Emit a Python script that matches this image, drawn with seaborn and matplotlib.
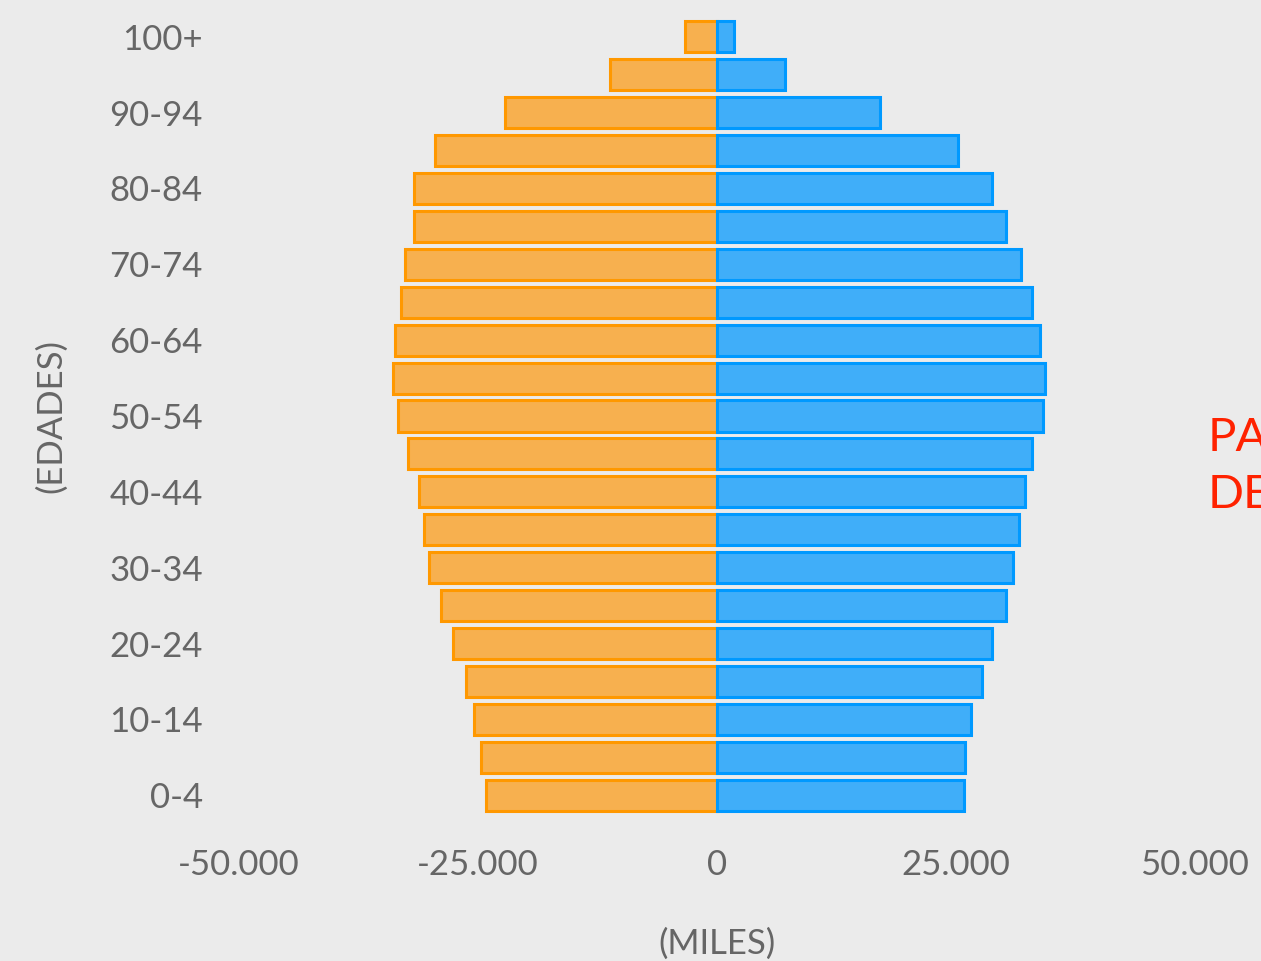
import pandas as pd
import matplotlib.pyplot as plt
import seaborn as sns
from matplotlib.ticker import FuncFormatter

# age groups, bottom to top
edades = ["0-4", "5-9", "10-14", "15-19", "20-24", "25-29", "30-34", "35-39",
          "40-44", "45-49", "50-54", "55-59", "60-64", "65-69", "70-74",
          "75-79", "80-84", "85-89", "90-94", "95-99", "100+"]

# left side (orange), thousands
mujeres = [24200, 24700, 25400, 26200, 27600, 28900, 30100, 30600, 31200,
           32300, 33400, 33900, 33700, 33100, 32600, 31700, 31700, 29500,
           22200, 11200, 3300]

# right side (blue)
hombres = [25800, 26000, 26600, 27700, 28800, 30200, 31000, 31600, 32200,
           33000, 34100, 34300, 33800, 33000, 31800, 30200, 28800, 25200,
           17100, 7100, 1800]

df = pd.DataFrame({
    "edad": edades * 2,
    "valor": [-v for v in mujeres] + hombres,
    "sexo": ["Mujeres"] * len(edades) + ["Hombres"] * len(edades),
})

sns.set_style("white")
plt.rcParams["font.family"] = ["Lato", "DejaVu Sans"]

bg = "#ebebeb"
txt = "#666666"

fig = plt.figure(figsize=(12.61, 9.61), dpi=100, facecolor=bg)
ax = fig.add_axes([0.1895, 0.1488, 0.7581, 0.8366], facecolor=bg)

orden = edades[::-1]
sns.barplot(data=df[df.sexo == "Mujeres"], x="valor", y="edad", order=orden,
            orient="h", color="#f7b04f", edgecolor="#ff9800", linewidth=2.2,
            saturation=1, width=0.82, ax=ax)
sns.barplot(data=df[df.sexo == "Hombres"], x="valor", y="edad", order=orden,
            orient="h", color="#40aef9", edgecolor="#0099ff", linewidth=2.2,
            saturation=1, width=0.82, ax=ax)

ax.set_xlim(-50000, 50000)
ax.set_ylim(20.6, -0.6)
ax.set_xticks([-50000, -25000, 0, 25000, 50000])
ax.xaxis.set_major_formatter(FuncFormatter(lambda v, p: f"{int(v):,}".replace(",", ".")))
ax.set_yticks(range(len(orden)))
ax.set_yticklabels([e if (len(orden) - 1 - i) % 2 == 0 else "" for i, e in enumerate(orden)])
ax.tick_params(axis="both", length=0, labelsize=25, labelcolor=txt)
ax.tick_params(axis="x", pad=22)
ax.tick_params(axis="y", pad=26)
for s in ax.spines.values():
    s.set_visible(False)

ax.set_xlabel("(MILES)", fontsize=25, color=txt, labelpad=34)
ax.set_ylabel("(EDADES)", fontsize=25, color=txt, labelpad=30)

fig.text(1208 / 1261, 1 - 437 / 961, "PAÍS", fontsize=34, color="#ff2200",
         va="center", ha="left")
fig.text(1208 / 1261, 1 - 495 / 961, "DESTINO", fontsize=34, color="#ff2200",
         va="center", ha="left")

fig.savefig("out.png", dpi=100, facecolor=bg)
